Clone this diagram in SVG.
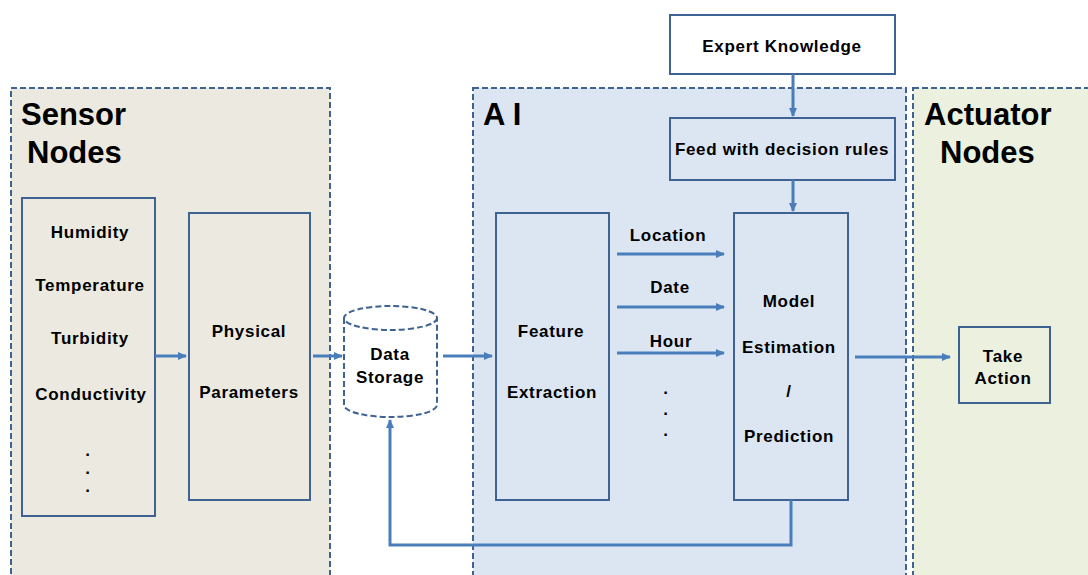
<svg xmlns="http://www.w3.org/2000/svg" width="1088" height="575" viewBox="0 0 1088 575">
<style>
.panel{stroke:#3E6292;stroke-width:2;stroke-dasharray:6,3}
.box{stroke:#3E6292;stroke-width:2}
.t{font-family:"Liberation Sans",Arial,sans-serif;font-weight:bold;font-size:17px;letter-spacing:0.7px;fill:#000;text-anchor:middle}
.h{font-family:"Liberation Sans",Arial,sans-serif;font-weight:bold;font-size:31px;fill:#000}
.c{stroke:#4A7EBB;stroke-width:3;fill:none}
</style>
<defs>
<marker id="ah" markerWidth="10" markerHeight="10" refX="8" refY="5" orient="auto" markerUnits="userSpaceOnUse">
<path d="M0,1 L9,5 L0,9 Z" fill="#4A7EBB"/>
</marker>
</defs>
<rect width="1088" height="575" fill="#fff"/>
<g id="sensor-panel">
<rect class="panel" x="11" y="88" width="319" height="500" fill="#ECEAE0"/>
<text class="h" x="21" y="125">Sensor</text>
<text class="h" x="27" y="163">Nodes</text>
</g>
<g id="ai-panel">
<rect class="panel" x="473" y="88" width="433" height="500" fill="#DCE6F2"/>
<text class="h" x="483" y="125">A I</text>
</g>
<g id="actuator-panel">
<rect class="panel" x="913" y="88" width="190" height="500" fill="#EBF1DE"/>
<text class="h" x="924" y="125">Actuator</text>
<text class="h" x="940" y="163">Nodes</text>
</g>
<g id="sensors">
<rect class="box" x="22" y="198" width="133" height="318" fill="#ECEAE0"/>
<text class="t" x="90" y="238">Humidity</text>
<text class="t" x="90" y="291">Temperature</text>
<text class="t" x="90" y="344">Turbidity</text>
<text class="t" x="91" y="400">Conductivity</text>
<text class="t" x="88" y="456">.</text>
<text class="t" x="88" y="474">.</text>
<text class="t" x="88" y="492">.</text>
</g>
<g id="physical">
<rect class="box" x="189" y="213" width="121" height="287" fill="#ECEAE0"/>
<text class="t" x="249" y="337">Physical</text>
<text class="t" x="249" y="398">Parameters</text>
</g>
<g id="storage">
<path class="panel" d="M344,318 L344,405 A46.5,12 0 0 0 437,405 L437,318 A46.5,12 0 0 0 344,318 A46.5,12 0 0 0 437,318" fill="#fff"/>
<text class="t" x="390" y="360">Data</text>
<text class="t" x="390" y="383">Storage</text>
</g>
<g id="feature">
<rect class="box" x="496" y="213" width="113" height="287" fill="#DCE6F2"/>
<text class="t" x="551" y="337">Feature</text>
<text class="t" x="552" y="398">Extraction</text>
</g>
<g id="model">
<rect class="box" x="734" y="213" width="114" height="287" fill="#DCE6F2"/>
<text class="t" x="789" y="307">Model</text>
<text class="t" x="789" y="353">Estimation</text>
<text class="t" x="789" y="397">/</text>
<text class="t" x="789" y="442">Prediction</text>
</g>
<g id="expert">
<rect class="box" x="670" y="15" width="225" height="59" fill="#fff"/>
<text class="t" x="782" y="52">Expert Knowledge</text>
</g>
<g id="feed">
<rect class="box" x="670" y="118" width="225" height="62" fill="#DCE6F2"/>
<text class="t" x="782" y="155">Feed with decision rules</text>
</g>
<g id="take-action">
<rect class="box" x="959" y="327" width="91" height="76" fill="#EBF1DE"/>
<text class="t" x="1003" y="362">Take</text>
<text class="t" x="1003" y="384">Action</text>
</g>
<g id="labels">
<text class="t" x="668" y="241">Location</text>
<text class="t" x="670" y="293">Date</text>
<text class="t" x="671" y="347">Hour</text>
<text class="t" x="666" y="394">.</text>
<text class="t" x="666" y="415">.</text>
<text class="t" x="666" y="436">.</text>
</g>
<g id="connectors">
<line class="c" x1="155" y1="356" x2="186" y2="356" marker-end="url(#ah)"/>
<line class="c" x1="313" y1="356" x2="342" y2="356" marker-end="url(#ah)"/>
<line class="c" x1="443" y1="356" x2="492" y2="356" marker-end="url(#ah)"/>
<line class="c" x1="617" y1="254" x2="724" y2="254" marker-end="url(#ah)"/>
<line class="c" x1="617" y1="307" x2="724" y2="307" marker-end="url(#ah)"/>
<line class="c" x1="617" y1="353" x2="724" y2="353" marker-end="url(#ah)"/>
<line class="c" x1="855" y1="357" x2="950" y2="357" marker-end="url(#ah)"/>
<line class="c" x1="793" y1="74" x2="793" y2="116" marker-end="url(#ah)"/>
<line class="c" x1="793" y1="180" x2="793" y2="211" marker-end="url(#ah)"/>
<polyline class="c" points="791,500 791,545 390,545 390,420" marker-end="url(#ah)"/>
</g>
</svg>
